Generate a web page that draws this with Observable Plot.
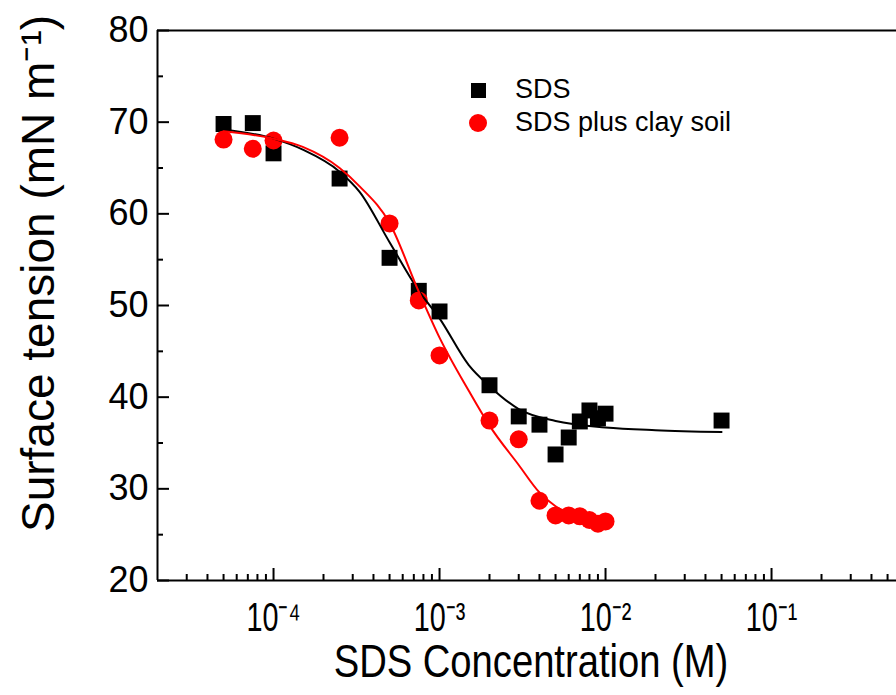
<!DOCTYPE html>
<html><head><meta charset="utf-8">
<script src="https://cdn.jsdelivr.net/npm/d3@7"></script>
<script src="https://cdn.jsdelivr.net/npm/@observablehq/plot@0.6"></script>
<style>
body{margin:0;background:#fff;overflow:hidden;}
#wrap{position:relative;width:896px;height:695px;}
#wrap svg{display:block;}
.leg{position:absolute;left:0;top:0;font-family:"Liberation Sans",Arial,sans-serif;font-size:27px;color:#000;}
.leg .row{position:absolute;white-space:nowrap;}
.leg .sym{position:absolute;}
</style></head><body><div id="wrap"></div>
<script>
// Measured data: SDS only (black squares)
const sdsConc = [5e-5,7.5e-5,1e-4,2.5e-4,5e-4,7.5e-4,1e-3,2e-3,3e-3,4e-3,5e-3,6e-3,7e-3,8e-3,9e-3,1e-2,5e-2];
const sdsTension = [69.8,69.9,66.6,63.85,55.2,51.6,49.35,41.3,37.9,37.0,33.75,35.6,37.35,38.55,37.7,38.2,37.45];
// SDS plus clay soil (red circles)
const claySoilConc = [5e-5,7.5e-5,1e-4,2.5e-4,5e-4,7.5e-4,1e-3,2e-3,3e-3,4e-3,5e-3,6e-3,7e-3,8e-3,9e-3,1e-2];
const claySoilTension = [68.1,67.1,68.0,68.3,58.95,50.55,44.55,37.45,35.4,28.7,27.1,27.1,27.0,26.6,26.2,26.45];
// Fitted curves
const sdsFitConc = [5e-5,1e-4,1.5e-4,2.5e-4,3.3e-4,5e-4,7.5e-4,1e-3,1.5e-3,2e-3,3e-3,5e-3,1e-2,2e-2,5e-2];
const sdsFitTension = [69.2,68.2,67.0,64.6,62.4,56.9,51.6,48.6,43.5,41.2,38.7,37.4,36.7,36.4,36.2];
const claySoilFitConc = [5e-5,1e-4,1.5e-4,2.5e-4,3.3e-4,5e-4,7.5e-4,1e-3,1.5e-3,2e-3,3e-3,4e-3,5e-3,7e-3,1e-2];
const claySoilFitTension = [69.0,68.2,67.3,65.0,63.0,59.0,51.5,46.5,40.7,36.9,32.6,29.6,28.1,26.9,26.3];
// Ticks
const yMajorTicks = [20,30,40,50,60,70,80];
const yMinorTicks = [25,35,45,55,65,75];
const xMajorTicks = [1e-4,1e-3,1e-2,1e-1];
const xMinorTicks = [];
for (const e of [-5,-4,-3,-2,-1]) for (let m = 2; m <= 9; m++) { const v = m * Math.pow(10, e); if (v > 2.5e-5 && v <= 0.56) xMinorTicks.push(v); }
const seriesNames = ["SDS", "SDS plus clay soil"];
const xLabel = "SDS Concentration (M)";
const yLabel = "Surface tension (mN m\u207B\u00B9)";

const sup = {"-":"\u207B","0":"\u2070","1":"\u00B9","2":"\u00B2","3":"\u00B3","4":"\u2074","5":"\u2075","6":"\u2076","7":"\u2077","8":"\u2078","9":"\u2079"};
const fmt = d => "10" + String(Math.round(Math.log10(d))).split("").map(c => sup[c]).join("");

const sds = sdsConc.map((c,i) => ({c, t: sdsTension[i]}));
const clay = claySoilConc.map((c,i) => ({c, t: claySoilTension[i]}));
const sdsFit = sdsFitConc.map((c,i) => ({c, t: sdsFitTension[i]}));
const clayFit = claySoilFitConc.map((c,i) => ({c, t: claySoilFitTension[i]}));

const regular = "'Liberation Sans',Arial,sans-serif";
const W = 896, H = 695, ML = 157, MT = 30, MB = 115, MR = 0;
const frameW = W - ML - MR, frameH = H - MT - MB;

const chart = Plot.plot({
  width: W, height: H,
  marginLeft: ML, marginTop: MT, marginBottom: MB, marginRight: MR,
  x: {type: "log", domain: [2e-5, 0.566]},
  y: {domain: [20, 80]},
  style: {fontFamily: regular, background: "white", color: "black"},
  marks: [
    Plot.ruleY([20, 80], {stroke: "black", strokeWidth: 2}),
    Plot.ruleX([2e-5], {stroke: "black", strokeWidth: 2}),
    // inward ticks
    Plot.tickY(yMajorTicks, {y: d => d, insetRight: frameW - 12, stroke: "black", strokeWidth: 2}),
    Plot.tickY(yMinorTicks, {y: d => d, insetRight: frameW - 6, stroke: "black", strokeWidth: 2}),
    Plot.tickX(xMajorTicks, {x: d => d, insetTop: frameH - 12, stroke: "black", strokeWidth: 2}),
    Plot.tickX(xMinorTicks, {x: d => d, insetTop: frameH - 6, stroke: "black", strokeWidth: 2}),
    Plot.axisY({ticks: yMajorTicks, tickSize: 0, tickPadding: 9, fontSize: 36, label: null}),
    Plot.axisX({ticks: xMajorTicks, tickSize: 0, tickPadding: 22, fontSize: 40, tickFormat: fmt, label: null}),
    Plot.dot(sds, {x: "c", y: "t", symbol: "square", r: 9, fill: "black", stroke: "none"}),
    Plot.dot(clay, {x: "c", y: "t", symbol: "circle", r: 9, fill: "#ff0000", stroke: "none"}),
    Plot.line(sdsFit, {x: "c", y: "t", stroke: "black", strokeWidth: 2, curve: "monotone-x"}),
    Plot.line(clayFit, {x: "c", y: "t", stroke: "#ff0000", strokeWidth: 2, curve: "monotone-x"}),
    Plot.text([xLabel], {frameAnchor: "bottom", textAnchor: "middle", lineAnchor: "middle", dy: 82, dx: 4, fontSize: 46, fill: "black"}),
    Plot.text([yLabel], {frameAnchor: "left", textAnchor: "middle", lineAnchor: "middle", rotate: -90, dx: -118, dy: -32, fontSize: 46, fill: "black"})
  ]
});
const wrap = document.getElementById("wrap");
wrap.appendChild(chart);

// condensed look for the x-axis texts
function squeezeEl(el, k) {
  const t = el.getAttribute("transform") || "";
  el.setAttribute("transform", (t + ` scale(${k},1)`).trim());
}
const tickTexts = xMajorTicks.map(fmt);
chart.querySelectorAll("text").forEach(el => {
  const s = el.textContent;
  if (s === xLabel) squeezeEl(el, 0.83);
  else if (tickTexts.includes(s)) squeezeEl(el, 0.72);
});

// Legend
const leg = document.createElement("div");
leg.className = "leg";
leg.innerHTML = `
  <div class="sym" style="left:471px;top:83px;width:15px;height:15px;background:#000"></div>
  <div class="row" style="left:515px;top:74px">${seriesNames[0]}</div>
  <div class="sym" style="left:469px;top:114px;width:18px;height:18px;border-radius:50%;background:#ff0000"></div>
  <div class="row" style="left:515px;top:107px">${seriesNames[1]}</div>`;
wrap.appendChild(leg);
</script>
</body></html>
